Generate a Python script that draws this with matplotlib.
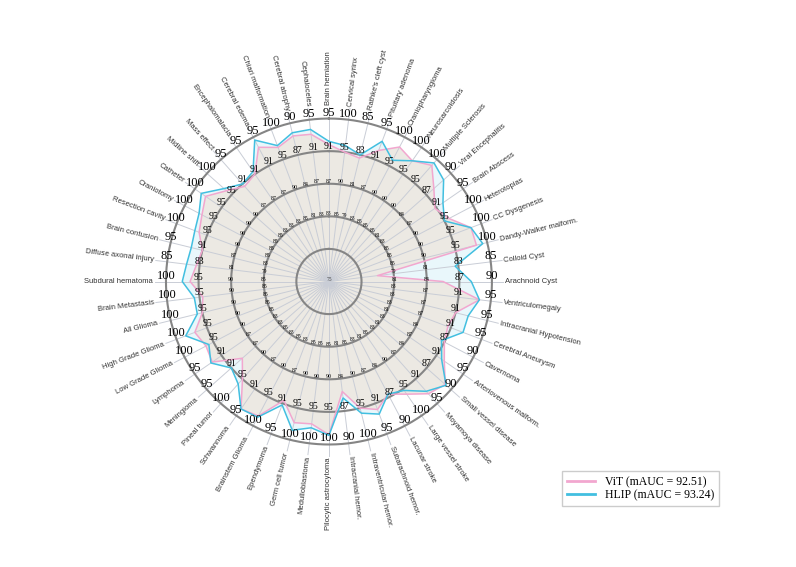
import numpy as np
import matplotlib
matplotlib.use('Agg')
import matplotlib.pyplot as plt
from matplotlib.lines import Line2D

# categories clockwise from the top
labels = [
    'Brain herniation', 'Cervical syrinx', "Rathke's cleft cyst", 'Pituitary adenoma',
    'Craniopharyngioma', 'Neurosarcoidosis', 'Multiple Sclerosis', 'Viral Encephalitis',
    'Brain Abscess', 'Heterotopias', 'CC Dysgenesis', 'Dandy-Walker malform.',
    'Colloid Cyst', 'Arachnoid Cyst', 'Ventriculomegaly', 'Intracranial Hypotension',
    'Cerebral Aneurysm', 'Cavernoma', 'Arteriovenous malform.', 'Small vessel disease',
    'Moyamoya disease', 'Large vessel stroke', 'Lacunar stroke', 'Subarachnoid hemor.',
    'Intraventricular hemor.', 'Intracranial hemor.', 'Pilocytic astrocytoma', 'Medulloblastoma',
    'Germ cell tumor', 'Ependymoma', 'Brainstem Glioma', 'Schwannoma',
    'Pineal tumor', 'Meningioma', 'Lymphoma', 'Low Grade Glioma',
    'High Grade Glioma', 'All Glioma', 'Brain Metastasis', 'Subdural hematoma',
    'Diffuse axonal injury', 'Brain contusion', 'Resection cavity', 'Craniotomy',
    'Catheter', 'Midline shift', 'Mass effect', 'Encephalomalacia',
    'Cerebral edema', 'Chiari malformation', 'Cerebral atrophy', 'Cephaloceles',
]

# per-axis scale: from AXIS_MIN at the centre to axis_max at the outer ring
AXIS_MIN = 75
axis_max = [95, 100, 85, 95, 100, 100, 100, 90, 95, 100, 100, 100, 85,
            90, 95, 95, 95, 90, 95, 90, 95, 100, 90, 95, 100, 90,
            100, 100, 100, 95, 100, 95, 100, 95, 95, 100, 100, 100, 100,
            100, 85, 95, 100, 100, 100, 100, 95, 95, 95, 100, 90, 95]

vit_auc = [91.8, 95.0, 82.8, 92.2, 98.3, 97.5, 98.8, 87.9, 90.8, 95.8, 98.3, 98.3, 78.0,
           85.5, 93.6, 91.0, 90.6, 87.0, 92.2, 89.3, 93.4, 96.0, 86.7, 91.8, 95.0, 85.2,
           98.5, 97.0, 97.3, 90.6, 98.3, 94.0, 95.0, 89.2, 92.4, 96.3, 97.0, 95.0, 94.5,
           96.3, 83.2, 91.0, 96.3, 97.0, 98.0, 96.0, 90.6, 91.0, 93.6, 97.0, 88.8, 93.2]

hlip_auc = [92.2, 96.0, 83.0, 93.4, 96.0, 97.5, 99.3, 89.1, 92.0, 95.0, 98.3, 99.3, 82.8,
            88.1, 93.6, 92.6, 92.6, 86.7, 91.8, 89.4, 93.0, 95.3, 86.7, 92.4, 95.8, 85.8,
            98.6, 97.6, 98.5, 91.2, 98.5, 94.0, 96.0, 91.0, 92.6, 95.8, 98.5, 95.8, 95.8,
            97.5, 83.8, 92.4, 97.0, 97.5, 98.8, 96.5, 91.0, 91.4, 94.6, 97.3, 89.1, 93.8]

series_names = ['ViT (mAUC = 92.51)', 'HLIP (mAUC = 93.24)']
VIT_COLOR = '#f2a7cf'
HLIP_COLOR = '#42bfe0'

n = len(labels)
theta = np.arange(n) * 2 * np.pi / n
span = np.array(axis_max) - AXIS_MIN


def to_r(vals):
    return (np.asarray(vals, dtype=float) - AXIS_MIN) / span


def close(a):
    return np.append(a, a[0])


fig = plt.figure(figsize=(7.96, 5.67), dpi=100)
ax = fig.add_axes([0.2085, 0.2160, 0.4095, 0.5750], projection='polar')
ax.set_theta_offset(np.pi / 2)
ax.set_theta_direction(-1)
ax.set_ylim(0, 1)
ax.set_axis_off()

tc = close(theta)
r_vit = close(to_r(vit_auc))
r_hlip = close(to_r(hlip_auc))

ax.fill(tc, r_hlip, color='#e9f7fb', lw=0, zorder=1)
ax.fill(tc, r_vit, color='#ece9e3', lw=0, zorder=2)

# spokes
for t in theta:
    ax.plot([t, t], [0, 1.07], color='#c9cdd6', lw=0.7, zorder=3, clip_on=False)

# rings
tt = np.linspace(0, 2 * np.pi, 500)
for k in range(1, 6):
    ax.plot(tt, np.full_like(tt, k / 5), color='#858585', lw=1.5, zorder=4, clip_on=False)

ax.plot(tc, r_vit, color=VIT_COLOR, lw=1.1, zorder=5)
ax.plot(tc, r_hlip, color=HLIP_COLOR, lw=1.1, zorder=6)

# ring labels per axis
ring_size = {2: 4, 3: 4.2, 4: 7, 5: 9}
for i, t in enumerate(theta):
    for k in range(2, 6):
        val = AXIS_MIN + span[i] * k / 5
        ax.text(t, k / 5, f'{val:.0f}', ha='center', va='bottom',
                fontsize=ring_size[k], family='Liberation Serif', zorder=7)
ax.text(0, 0, f'{AXIS_MIN}', ha='center', va='bottom', fontsize=4,
        family='Liberation Serif', color='#444444', zorder=7)

# category labels
for i, t in enumerate(theta):
    ang = 90 - np.degrees(t)
    ang = (ang + 180) % 360 - 180
    if -90 < ang <= 90:
        rot, ha = ang, 'left'
    else:
        rot, ha = ang + 180, 'right'
        if rot > 180:
            rot -= 360
    ax.text(t, 1.08, labels[i], rotation=rot, ha=ha, va='center',
            rotation_mode='anchor', fontsize=5.5, family='Liberation Sans',
            color='#333333')

handles = [Line2D([], [], color=VIT_COLOR, lw=2),
           Line2D([], [], color=HLIP_COLOR, lw=2)]
fig.legend(handles, series_names, loc='upper left', bbox_to_anchor=(0.699, 0.179),
           prop={'family': 'Liberation Serif', 'size': 8.5}, fancybox=False,
           edgecolor='#cccccc', framealpha=1, handlelength=2.4, labelspacing=0.1,
           borderpad=0.4)

fig.savefig('out.png', dpi=100)
